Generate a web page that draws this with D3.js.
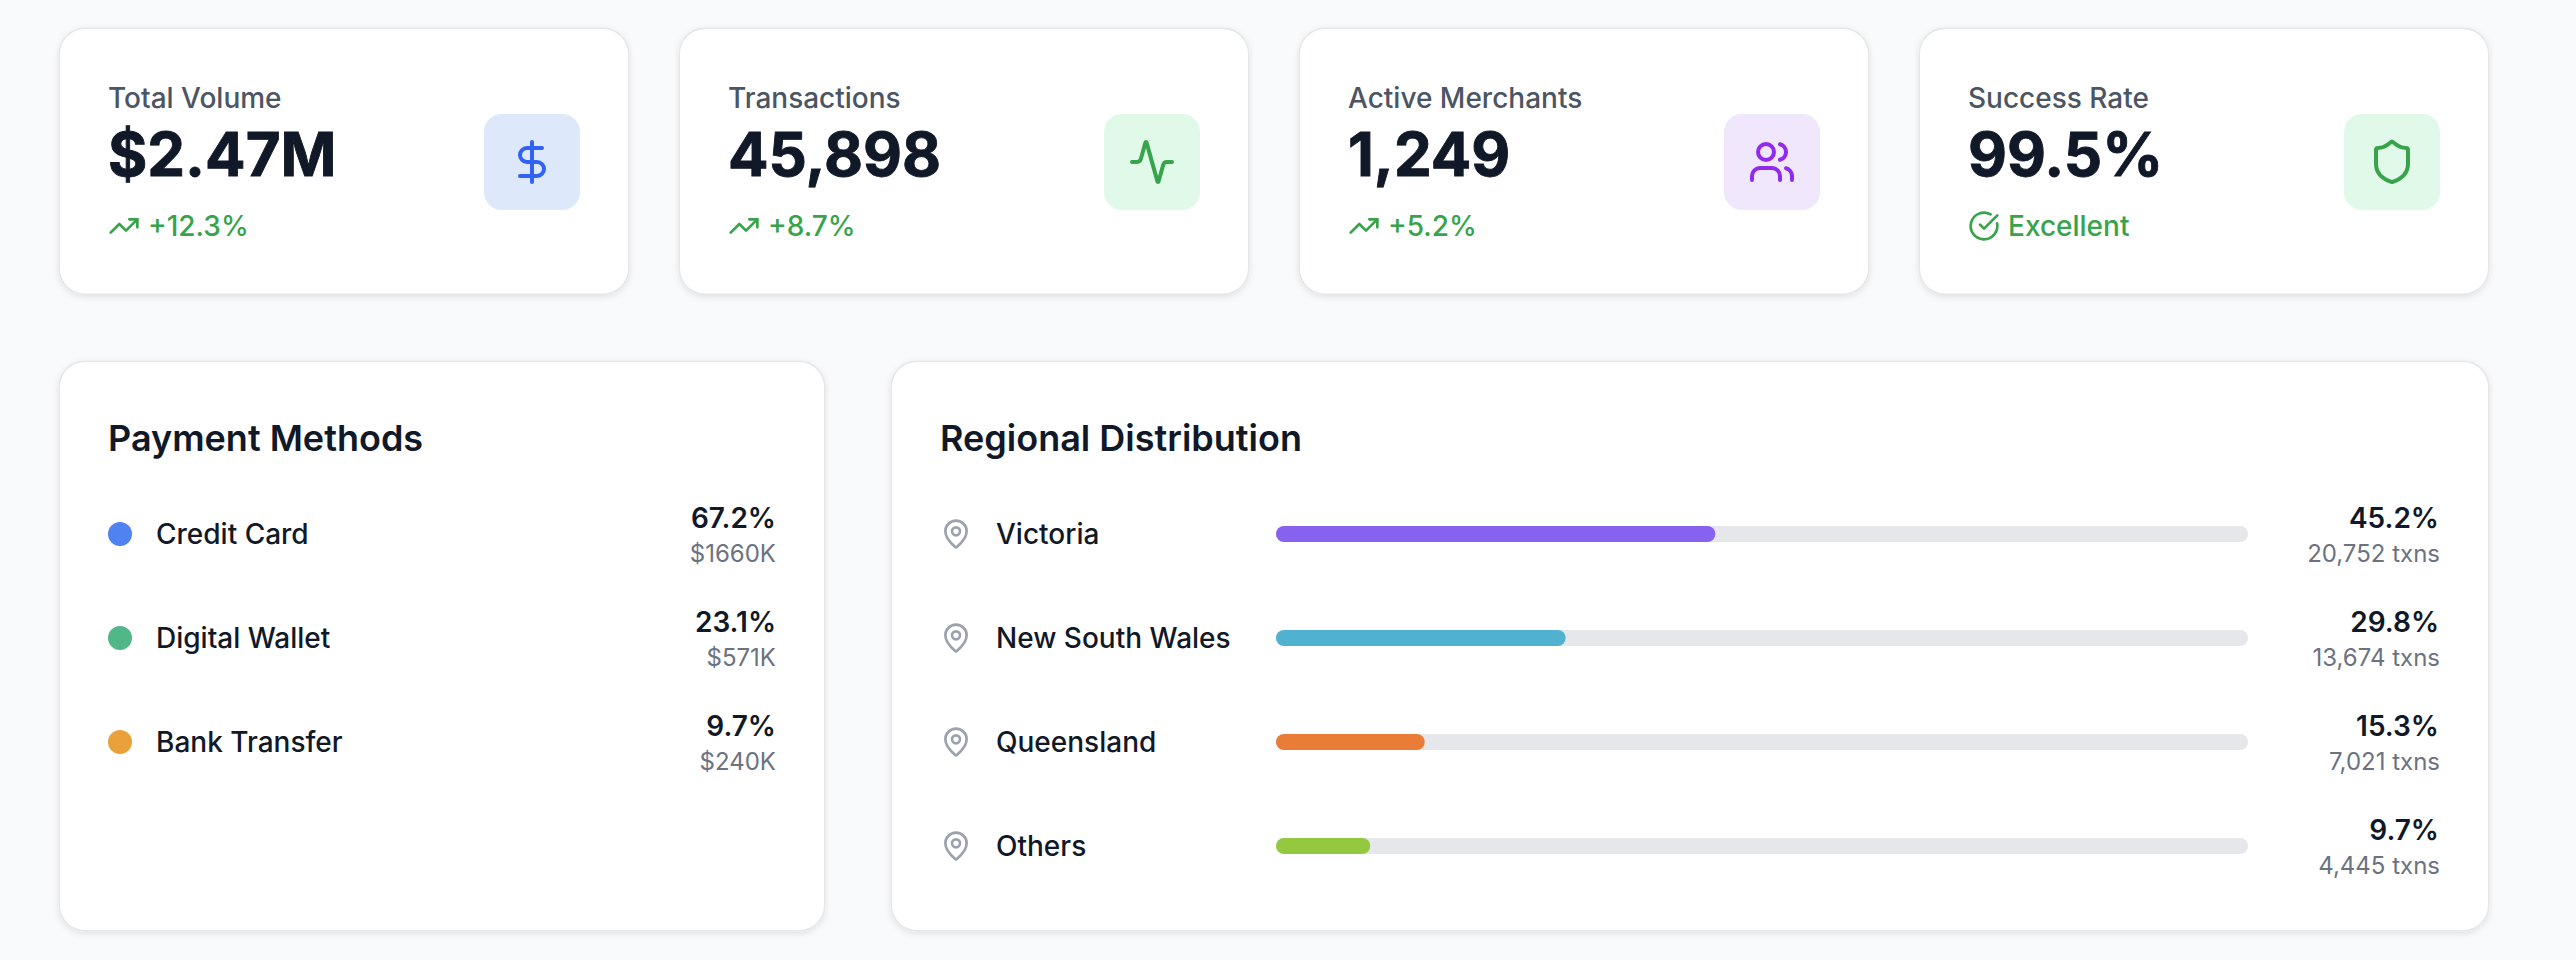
<!DOCTYPE html>
<html><head><meta charset="utf-8">
<script src="https://cdn.jsdelivr.net/npm/d3@7"></script>
<style>
html,body{margin:0;padding:0;background:#f9fafb;overflow:hidden}
svg{display:block}
text{font-family:Inter,sans-serif}
</style></head><body>
<div id="chart"></div>
<script>
// ---- data ----
const kpiLabels = ["Total Volume","Transactions","Active Merchants","Success Rate"];
const kpiValues = ["$2.47M","45,898","1,249","99.5%"];
const kpiDeltas = ["+12.3%","+8.7%","+5.2%","Excellent"];
const kpiDeltaIcons = ["trend","trend","trend","check"];
const kpiIcons = ["dollar","activity","users","shield"];
const kpiIconColors = ["#2f62f5","#37a44b","#9229ef","#37a44b"];
const kpiIconBgs = ["#dee8fb","#e1f9e9","#f0e7fc","#e1f9e9"];

const methodNames = ["Credit Card","Digital Wallet","Bank Transfer"];
const methodShares = [67.2,23.1,9.7];
const methodAmounts = [1660,571,240];
const methodColors = ["#5082f2","#52b788","#eba13b"];

const regionNames = ["Victoria","New South Wales","Queensland","Others"];
const regionShares = [45.2,29.8,15.3,9.7];
const regionTxns = [20752,13674,7021,4445];
const regionColors = ["#8761ef","#50b1d0","#e97c37","#94c93f"];

const iconPaths = {
  dollar:["M12 2v20","M17 5H9.5a3.5 3.5 0 0 0 0 7h5a3.5 3.5 0 0 1 0 7H6"],
  activity:["M22 12h-2.48a2 2 0 0 0-1.93 1.46l-2.35 8.36a.25.25 0 0 1-.48 0L9.24 2.18a.25.25 0 0 0-.48 0l-2.35 8.36A2 2 0 0 1 4.49 12H2"],
  users:["M16 21v-2a4 4 0 0 0-4-4H6a4 4 0 0 0-4 4v2","M13 7a4 4 0 1 1-8 0a4 4 0 1 1 8 0","M22 21v-2a4 4 0 0 0-3-3.87","M16 3.13a4 4 0 0 1 0 7.75"],
  shield:["M20 13c0 5-3.5 7.5-7.66 8.95a1 1 0 0 1-.67-.01C7.5 20.5 4 18 4 13V6a1 1 0 0 1 1-1c2 0 4.5-1.2 6.24-2.72a1.17 1.17 0 0 1 1.52 0C14.51 3.81 17 5 19 5a1 1 0 0 1 1 1z"],
  trend:["M22 7 13.5 15.5 8.5 10.5 2 17","M16 7h6v6"],
  check:["M21.801 10A10 10 0 1 1 17 3.335","m9 11 3 3L22 4"],
  pin:["M20 10c0 4.993-5.539 10.193-7.399 11.799a1 1 0 0 1-1.202 0C9.539 20.193 4 14.993 4 10a8 8 0 0 1 16 0","M15 10a3 3 0 1 1-6 0a3 3 0 1 1 6 0"]
};

// ---- drawing ----
const W = 2576, H = 960;
const svg = d3.select("#chart").append("svg").attr("width",W).attr("height",H);
const defs = svg.append("defs");
defs.append("filter").attr("id","sh").attr("x","-5%").attr("y","-5%").attr("width","110%").attr("height","115%")
  .append("feDropShadow").attr("dx",0).attr("dy",2).attr("stdDeviation",3)
  .attr("flood-color","#000").attr("flood-opacity",0.1);

const INK="#111827", LABEL="#4b5563", MUTED="#6b7280", GOOD="#37a44b";

function card(x,y,w,h){
  svg.append("rect").attr("x",x).attr("y",y).attr("width",w).attr("height",h)
    .attr("rx",25).attr("fill","#fff").attr("stroke","#e5e7eb").attr("stroke-width",3)
    .style("paint-order","stroke").attr("filter","url(#sh)");
}
function icon(parent,name,x,y,size,color){
  const g = parent.append("g").attr("transform",`translate(${x},${y}) scale(${size/24})`)
    .attr("fill","none").attr("stroke",color).attr("stroke-width",2)
    .attr("stroke-linecap","round").attr("stroke-linejoin","round");
  g.selectAll("path").data(iconPaths[name]).join("path").attr("d",d=>d);
}
function text(parent,str,x,y,size,weight,fill,anchor){
  return parent.append("text").attr("x",x).attr("y",y).attr("font-size",size)
    .attr("font-weight",weight).attr("fill",fill).attr("text-anchor",anchor||"start").text(str);
}

// KPI cards
const kpiX = d3.scaleBand().domain(kpiLabels).range([60,2488]).paddingInner(52/620);
const KW = kpiX.bandwidth();
kpiLabels.forEach((lab,i)=>{
  const x = kpiX(lab);
  card(x,29,KW,264.5);
  const g = svg.append("g");
  text(g,lab,x+48,108,28,500,LABEL);
  text(g,kpiValues[i],x+48,176,60,700,INK).attr("stroke",INK).attr("stroke-width",0.9);
  icon(g,kpiDeltaIcons[i],x+48,210,32,GOOD);
  text(g,kpiDeltas[i],x+88,236,28,500,GOOD);
  const bx = x+KW-144;
  g.append("rect").attr("x",bx).attr("y",114).attr("width",96).attr("height",96).attr("rx",18).attr("fill",kpiIconBgs[i]);
  icon(g,kpiIcons[i],bx+24,138,48,kpiIconColors[i]);
});

// Payment methods
card(60,362,764,568);
text(svg,"Payment Methods",108,451,36,600,INK);
const methodY = d3.scalePoint().domain(methodNames).range([534,742]);
const mg = svg.append("g");
mg.selectAll("circle").data(methodNames).join("circle")
  .attr("cx",120).attr("cy",d=>methodY(d)).attr("r",12).attr("fill",(d,i)=>methodColors[i]);
methodNames.forEach((n,i)=>{
  const y = methodY(n);
  text(mg,n,156,y+10,28,500,INK);
  text(mg,methodShares[i].toFixed(1)+"%",776,y-6,28,600,INK,"end");
  text(mg,"$"+methodAmounts[i]+"K",776,y+28,24,400,MUTED,"end");
});

// Regional distribution
card(892,362,1596,568);
text(svg,"Regional Distribution",940,451,36,600,INK);
const regionY = d3.scalePoint().domain(regionNames).range([534,846]);
const barX = d3.scaleLinear().domain([0,100]).range([0,972]);
const rg = svg.append("g");
const BX=1276, BH=16;
rg.selectAll("rect.track").data(regionNames).join("rect").attr("class","track")
  .attr("x",BX).attr("y",d=>regionY(d)-BH/2).attr("width",barX(100)).attr("height",BH).attr("rx",8).attr("fill","#e5e7eb");
rg.selectAll("rect.fill").data(regionNames).join("rect").attr("class","fill")
  .attr("x",BX).attr("y",d=>regionY(d)-BH/2).attr("width",(d,i)=>barX(regionShares[i])).attr("height",BH).attr("rx",8).attr("fill",(d,i)=>regionColors[i]);
regionNames.forEach((n,i)=>{
  const y = regionY(n);
  icon(rg,"pin",940,y-16,32,"#9ca3af");
  text(rg,n,996,y+10,28,500,INK);
  text(rg,regionShares[i].toFixed(1)+"%",2439,y-6,28,600,INK,"end");
  text(rg,d3.format(",")(regionTxns[i])+" txns",2440,y+28,24,400,MUTED,"end");
});
</script>
</body></html>
